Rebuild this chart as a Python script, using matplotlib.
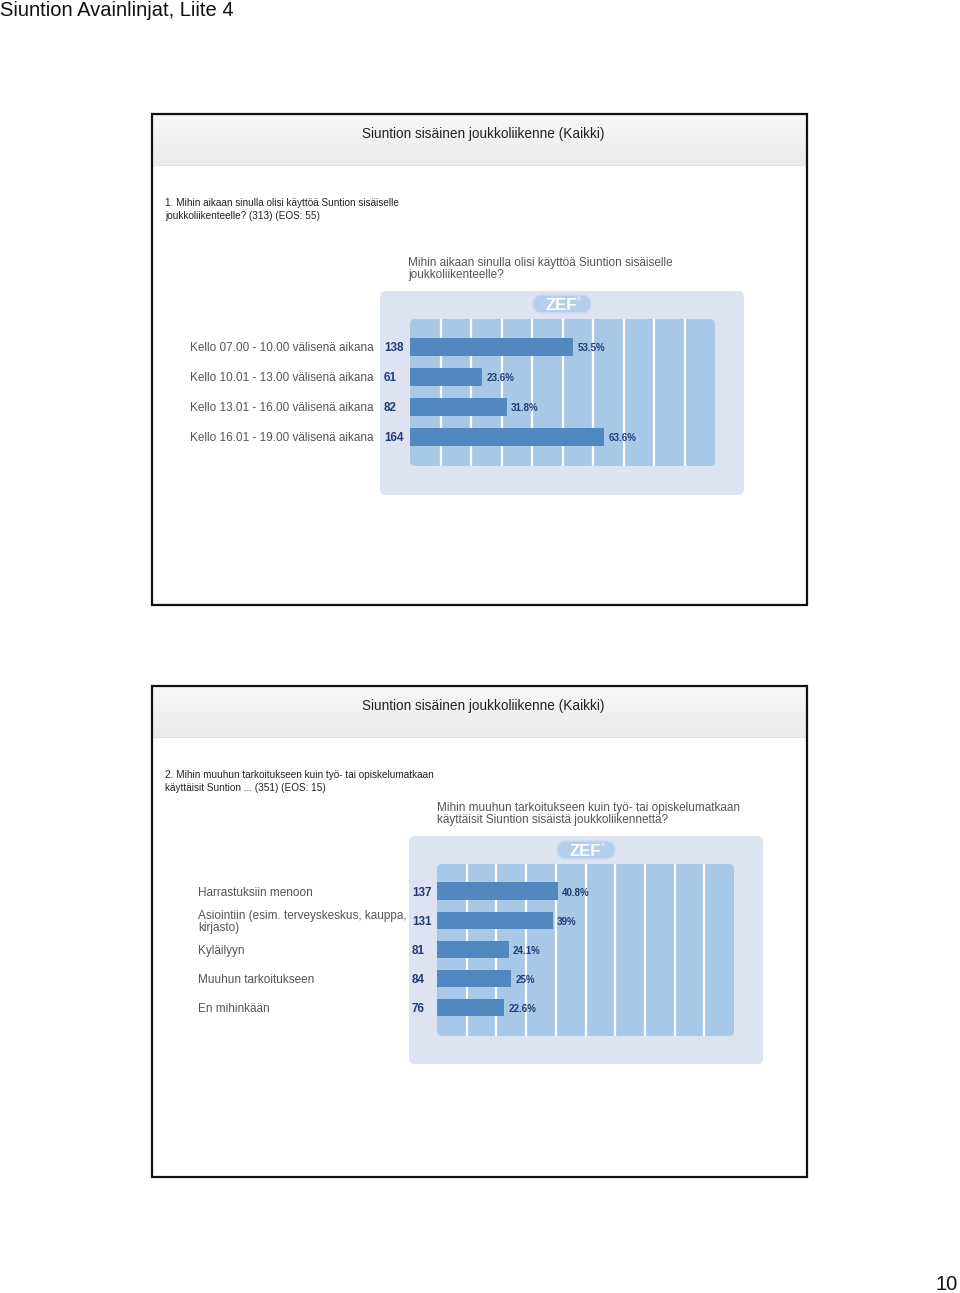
import numpy as np
import matplotlib
matplotlib.use("Agg")
import matplotlib.pyplot as plt
from matplotlib.patches import FancyBboxPatch, Rectangle
from matplotlib.colors import LinearSegmentedColormap
from matplotlib.transforms import offset_copy

plt.rcParams['font.family'] = ['Liberation Sans', 'DejaVu Sans']

# Kysymys 1
cats1 = ["Kello 07.00 - 10.00 välisenä aikana", "Kello 10.01 - 13.00 välisenä aikana",
         "Kello 13.01 - 16.00 välisenä aikana", "Kello 16.01 - 19.00 välisenä aikana"]
counts1 = [138, 61, 82, 164]
pct1 = [53.5, 23.6, 31.8, 63.6]

# Kysymys 2
cats2 = ["Harrastuksiin menoon", "Asiointiin (esim. terveyskeskus, kauppa,\nkirjasto)",
         "Kyläilyyn", "Muuhun tarkoitukseen", "En mihinkään"]
counts2 = [137, 131, 81, 84, 76]
pct2 = [40.8, 39, 24.1, 25, 22.6]

W, H = 960, 1293
BAR = '#5088bf'
INNER = '#a8c8e8'
PANEL = '#dee3f1'
NAVY = '#1f3b73'
GREY = '#555555'

fig = plt.figure(figsize=(W / 100, H / 100), dpi=100)
bg = fig.add_axes([0, 0, 1, 1])
bg.set_xlim(0, W)
bg.set_ylim(H, 0)
bg.axis('off')

bg.text(0, 11, "Siuntion Avainlinjat, Liite 4", fontsize=14.5, va='center', ha='left', color='#111111')
bg.text(958, 1284, "10", fontsize=14.5, va='center', ha='right', color='#111111')

hdr_cmap = LinearSegmentedColormap.from_list('hdr', ['#f7f7f7', '#ebebeb'])


def slide(top, qtext, ctitle, panel, inner, zef):
    # kehys ja otsikkopalkki
    bg.add_patch(Rectangle((152, top), 655, 491, fill=False, lw=1.6, ec='#111111', zorder=5))
    grad = np.linspace(0, 1, 50).reshape(-1, 1)
    bg.imshow(grad, extent=(153, 806, top + 51, top + 1), aspect='auto', cmap=hdr_cmap, zorder=1)
    bg.plot([153, 806], [top + 51, top + 51], color='#e2e2e2', lw=0.8)
    bg.text(483, top + 20, "Siuntion sisäinen joukkoliikenne (Kaikki)", fontsize=9.8,
            ha='center', va='center', color='#222222')
    bg.text(165, top + 84, qtext, fontsize=7.2, ha='left', va='top', color='#222222',
            linespacing=1.38)
    # paneeli, kuva-alue ja ZEF-logo
    x0, y0, x1, y1 = panel
    bg.text(x0 + 28, y0 - 34, ctitle, fontsize=8.5, ha='left', va='top', color=GREY,
            linespacing=0.98)
    bg.add_patch(FancyBboxPatch((x0, y0), x1 - x0, y1 - y0,
                                boxstyle="round,pad=0,rounding_size=6", fc=PANEL, ec='none', zorder=2))
    x0, y0, x1, y1 = inner
    bg.add_patch(FancyBboxPatch((x0, y0), x1 - x0, y1 - y0,
                                boxstyle="round,pad=0,rounding_size=5", fc=INNER, ec='none', zorder=3))
    zx, zy = zef
    bg.add_patch(FancyBboxPatch((zx - 29, zy - 9), 58, 18,
                                boxstyle="round,pad=0,rounding_size=9", fc='#b3cfec', ec='#c9dcf1',
                                lw=1, zorder=3))
    bg.text(zx - 1, zy + 1, "ZEF", fontsize=12, fontweight='bold', color='white',
            ha='center', va='center', zorder=4)
    bg.text(zx + 17, zy - 4, "®", fontsize=4, color='white', ha='center', va='center', zorder=4)


def bars(inner, cats, counts, pct, count_dx, label_dx, label_ha):
    x0, y0, x1, y1 = inner
    ax = fig.add_axes([x0 / W, 1 - y1 / H, (x1 - x0) / W, (y1 - y0) / H])
    ax.patch.set_alpha(0)
    n = len(cats)
    y = np.arange(n)
    ax.barh(y, pct, height=0.6, color=BAR, zorder=3)
    ax.set_xlim(0, 100)
    ax.set_ylim(n - 1 + 0.97, -0.93)
    ax.set_xticks(np.arange(10, 100, 10))
    ax.set_yticks([])
    ax.grid(axis='x', color='white', lw=1.6)
    ax.tick_params(axis='x', length=0, labelbottom=False)
    for s in ax.spines.values():
        s.set_visible(False)
    tr_count = offset_copy(ax.get_yaxis_transform(), fig=fig, x=count_dx, y=-1.5, units='dots')
    tr_lab = offset_copy(ax.get_yaxis_transform(), fig=fig, x=label_dx, y=-1.5, units='dots')
    for i in range(n):
        ax.text(0, i, str(counts[i]), transform=tr_count, fontsize=8.4, fontweight='bold',
                color=NAVY, ha='left', va='center')
        ax.text(0, i, cats[i], transform=tr_lab, fontsize=8.5, color=GREY, ha=label_ha,
                va='center', linespacing=0.95)
        ax.annotate(f"{pct[i]:g}%", (pct[i], i), xytext=(3, -1), textcoords='offset points',
                    fontsize=7, fontweight='bold', color=NAVY, ha='left', va='center')
    return ax


slide(114, "1. Mihin aikaan sinulla olisi käyttöä Suntion sisäiselle\njoukkoliikenteelle? (313) (EOS: 55)",
      "Mihin aikaan sinulla olisi käyttöä Siuntion sisäiselle\njoukkoliikenteelle?",
      (380, 291, 744, 495), (410, 319, 715, 466), (562, 304))
bars((410, 319, 715, 466), cats1, counts1, pct1, -26, -36, 'right')

slide(686, "2. Mihin muuhun tarkoitukseen kuin työ- tai opiskelumatkaan\nkäyttäisit Suntion ... (351) (EOS: 15)",
      "Mihin muuhun tarkoitukseen kuin työ- tai opiskelumatkaan\nkäyttäisit Siuntion sisäistä joukkoliikennettä?",
      (409, 836, 763, 1064), (437, 864, 734, 1036), (586, 850))
bars((437, 864, 734, 1036), cats2, counts2, pct2, -25, -239, 'left')

bg.set_xlim(0, W)
bg.set_ylim(H, 0)
fig.savefig("out.png", dpi=100)
